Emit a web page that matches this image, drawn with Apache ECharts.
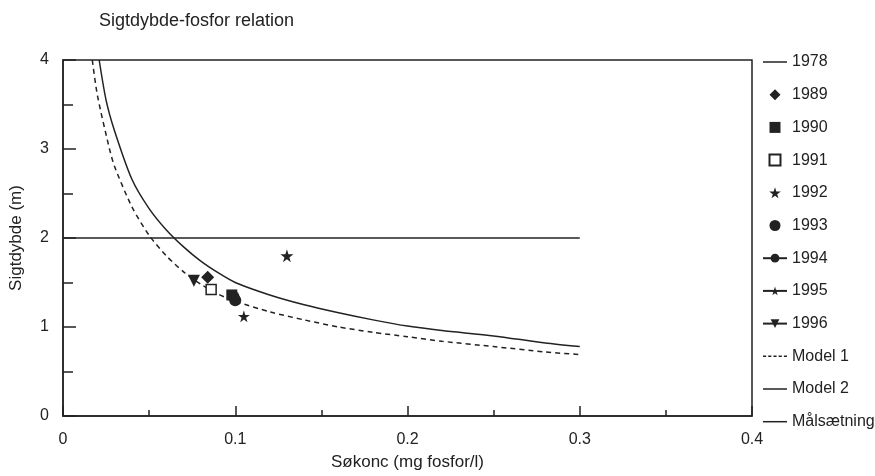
<!DOCTYPE html>
<html>
<head>
<meta charset="utf-8">
<script src="https://cdn.jsdelivr.net/npm/echarts@6/dist/echarts.min.js"></script>
<style>
  html, body { margin: 0; padding: 0; background: #fff; }
  #chart { width: 875px; height: 476px; }
</style>
</head>
<body>
<div id="chart"></div>
<script>
// curves, [Søkonc, Sigtdybde]
var model1 = [[0.017, 4.0], [0.02, 3.6], [0.027, 3.0], [0.03, 2.8], [0.04, 2.35], [0.05, 2.03],
  [0.06, 1.8], [0.07, 1.62], [0.08, 1.48], [0.09, 1.37], [0.1, 1.29], [0.12, 1.17], [0.14, 1.08],
  [0.16, 1.0], [0.18, 0.94], [0.2, 0.89], [0.22, 0.84], [0.25, 0.78], [0.28, 0.72], [0.3, 0.69]];
var model2 = [[0.021, 4.0], [0.025, 3.55], [0.03, 3.2], [0.04, 2.66], [0.05, 2.33], [0.06, 2.09],
  [0.07, 1.9], [0.08, 1.74], [0.09, 1.61], [0.1, 1.5], [0.12, 1.36], [0.14, 1.25], [0.16, 1.16],
  [0.18, 1.08], [0.2, 1.01], [0.22, 0.96], [0.25, 0.9], [0.28, 0.82], [0.3, 0.78]];
var goal = [[0, 2], [0.3, 2]];
var y1978 = [];
var y1989 = [[0.084, 1.56]];
var y1990 = [[0.098, 1.36]];
var y1991 = [[0.086, 1.42]];
var y1992 = [[0.13, 1.8]];
var y1993 = [[0.1, 1.3]];
var y1994 = [[0.099, 1.34]];
var y1995 = [[0.105, 1.12]];
var y1996 = [[0.076, 1.52]];

var ink = '#222';
var font = 'Liberation Sans, Arial, Helvetica, sans-serif';
var star = 'path://M50,0 L61,35 L98,35 L68,57 L79,91 L50,70 L21,91 L32,57 L2,35 L39,35 Z';
var triDown = 'path://M0,0 L10,0 L5,10 Z';
var diamond = 'path://M5,0 L10,5 L5,10 L0,5 Z';
var square = 'path://M0,0 L10,0 L10,10 L0,10 Z';
var solidIcon = 'path://M0,0 L24,0 L24,1.5 L0,1.5 Z';
var dotIcon = 'path://M0,0 L3,0 L3,1.5 L0,1.5 Z M5,0 L8,0 L8,1.5 L5,1.5 Z M10,0 L13,0 L13,1.5 L10,1.5 Z ' +
  'M15,0 L18,0 L18,1.5 L15,1.5 Z M20,0 L23,0 L23,1.5 L20,1.5 Z';

function dot(name, data, symbol, size, line, extra) {
  var s = {
    name: name,
    type: line ? 'line' : 'scatter',
    data: data,
    symbol: symbol,
    symbolSize: size,
    itemStyle: { color: ink, opacity: 1 },
    lineStyle: { color: ink, width: 1.5 },
    z: 5
  };
  if (line) { s.showSymbol = true; }
  for (var k in extra) { s[k] = extra[k]; }
  return s;
}

var chart = echarts.init(document.getElementById('chart'));
chart.setOption({
  animation: false,
  backgroundColor: '#fff',
  textStyle: { fontFamily: font, color: ink },
  title: {
    text: 'Sigtdybde-fosfor relation',
    left: 94, top: 7,
    textStyle: { fontFamily: font, fontSize: 18, fontWeight: 'normal', color: ink }
  },
  grid: {
    left: 62, right: 123, top: 60, bottom: 58,
    show: true, borderColor: ink, borderWidth: 1.5, backgroundColor: 'transparent'
  },
  legend: {
    orient: 'vertical',
    left: 757, top: 49,
    itemWidth: 24, itemHeight: 11, itemGap: 16.7,
    textStyle: { fontFamily: font, fontSize: 16, color: ink },
    data: [
      { name: '1978', icon: solidIcon },
      { name: '1989', icon: diamond },
      { name: '1990', icon: square },
      { name: '1991', icon: square },
      { name: '1992', icon: star },
      { name: '1993', icon: 'circle' },
      '1994', '1995', '1996',
      { name: 'Model 1', icon: dotIcon },
      { name: 'Model 2', icon: solidIcon },
      { name: 'Målsætning', icon: solidIcon }
    ]
  },
  xAxis: {
    type: 'value', min: 0, max: 0.4, interval: 0.1,
    name: 'Søkonc (mg fosfor/l)', nameLocation: 'middle', nameGap: 38,
    nameTextStyle: { fontFamily: font, fontSize: 17, color: ink },
    axisLine: { lineStyle: { color: ink, width: 1.5 } },
    axisTick: { inside: true, length: 10, lineStyle: { color: ink, width: 1.5 } },
    minorTick: { show: true, splitNumber: 2, length: 6, lineStyle: { color: ink, width: 1.5 } },
    splitLine: { show: false },
    axisLabel: { margin: 16, fontSize: 16, color: ink, fontFamily: font }
  },
  yAxis: {
    type: 'value', min: 0, max: 4, interval: 1,
    name: 'Sigtdybde (m)', nameLocation: 'middle', nameGap: 38,
    nameTextStyle: { fontFamily: font, fontSize: 17, color: ink },
    axisLine: { lineStyle: { color: ink, width: 1.5 } },
    axisTick: { inside: true, length: 13, lineStyle: { color: ink, width: 1.5 } },
    minorTick: { show: true, splitNumber: 2, length: 10, lineStyle: { color: ink, width: 1.5 } },
    splitLine: { show: false },
    axisLabel: { margin: 14, fontSize: 16, color: ink, fontFamily: font }
  },
  series: [
    { name: '1978', type: 'line', data: y1978, symbol: 'none', lineStyle: { color: ink, width: 1.5 }, itemStyle: { color: ink } },
    dot('1989', y1989, 'diamond', 13, false),
    dot('1990', y1990, 'rect', 11, false),
    dot('1991', y1991, 'rect', 10, false, { itemStyle: { color: '#fff', borderColor: ink, borderWidth: 1.5, opacity: 1 } }),
    dot('1992', y1992, star, 13, false),
    dot('1993', y1993, 'circle', 12, false),
    dot('1994', y1994, 'circle', 12, true),
    dot('1995', y1995, star, 12, true),
    dot('1996', y1996, triDown, 12, true),
    { name: 'Model 1', type: 'line', data: model1, symbol: 'none', smooth: 0.25,
      lineStyle: { color: ink, width: 1.5, type: [5, 4] }, itemStyle: { color: ink } },
    { name: 'Model 2', type: 'line', data: model2, symbol: 'none', smooth: 0.25,
      lineStyle: { color: ink, width: 1.5 }, itemStyle: { color: ink } },
    { name: 'Målsætning', type: 'line', data: goal, symbol: 'none',
      lineStyle: { color: ink, width: 1.5 }, itemStyle: { color: ink } }
  ]
});
</script>
</body>
</html>
